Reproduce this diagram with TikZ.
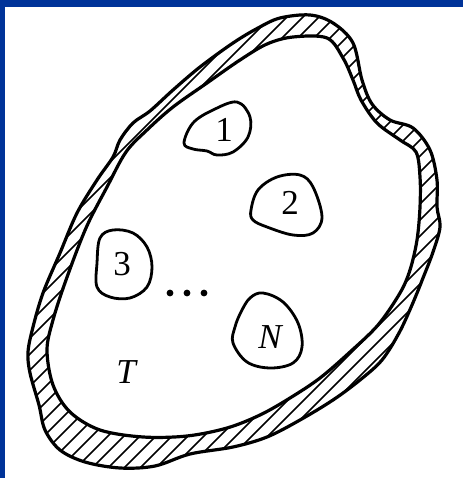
\documentclass[tikz,border=0pt]{standalone}
\usepackage{fontspec}
\setmainfont{Liberation Serif}
\definecolor{frameblue}{RGB}{0,51,153}
\begin{document}
\begin{tikzpicture}[x=1pt,y=-1pt,
  boundary/.style={line width=3.2pt,line join=round},
  hole/.style={line width=2.8pt,line join=round},
  hatch/.style={line width=1.5pt},
  lbl/.style={font=\fontsize{35}{40}\selectfont,inner sep=0pt}]
\useasboundingbox (0,0) rectangle (463,478);
\fill[frameblue] (0,0) rectangle (463,478);
\fill[white] (5,7) rectangle (463,478);
\def\outerpath{plot[smooth cycle,tension=0.55] coordinates {
 (280,18) (310,15) (333,23) (353,43) (362,80) (372,104) (390,120) (413,128) (430,150)
 (437,180) (437,207) (440,227) (433,252) (423,278) (412,305) (399,333) (382,360)
 (360,380) (333,400) (300,420) (267,437) (233,447) (190,454) (155,466) (120,468)
 (85,462) (60,450) (45,430) (39,405) (30,373) (28,352) (33,327) (43,293) (60,253)
 (77,213) (97,180) (113,157) (120,140) (133,123) (150,111) (173,90) (200,67)
 (233,43) (258,28)}}
\def\innerpath{plot[smooth cycle,tension=0.55] coordinates {
 (293,37) (327,38) (343,58) (353,80) (361,100) (377,123) (400,140) (416,152)
 (420,177) (420,207) (417,240) (410,270) (400,293) (378,325) (350,352) (320,378)
 (290,398) (260,415) (227,428) (187,436) (143,437) (100,430) (70,412) (53,385)
 (47,350) (53,320) (66,280) (86,228) (107,187) (126,152) (147,130) (173,107)
 (207,83) (240,60) (267,44)}}
\begin{scope}
  \clip \outerpath;
  \foreach \c in {-520,-504,...,480} \draw[hatch] (\c,520) -- (\c+520,0);
  \fill[white] \innerpath;
\end{scope}
\draw[boundary] \outerpath;
\draw[boundary] \innerpath;
% holes
\draw[hole] plot[smooth cycle,tension=0.6] coordinates {
 (184,143) (193,123) (213,110) (237,102) (250,117) (248,137) (233,152) (217,155)
 (207,151) (193,149)};
\draw[hole] plot[smooth cycle,tension=0.6] coordinates {
 (251,210) (258,190) (277,177) (300,175) (313,187) (322,217) (313,233) (293,235)
 (267,227) (253,220)};
\draw[hole] plot[smooth cycle,tension=0.6] coordinates {
 (97,263) (100,238) (113,230) (133,233) (147,247) (152,267) (147,287) (130,298)
 (110,297) (97,287)};
\draw[hole] plot[smooth cycle,tension=0.6] coordinates {
 (241,312) (250,298) (263,293) (283,302) (298,323) (302,347) (293,363) (270,368)
 (247,362) (233,343) (235,327)};
\node[lbl] (n1) at (224,130) {1};
\node[lbl] (n2) at (290,203) {2};
\node[lbl] (n3) at (122,264) {3};
\node[lbl] (nN) at (270,337) {\itshape N};
\node[lbl] (nT) at (126,372) {\itshape T};
\foreach \x [count=\i] in {170,187,204} \fill (\x,293) circle (3.4pt) coordinate (d\i);
\end{tikzpicture}
\end{document}
